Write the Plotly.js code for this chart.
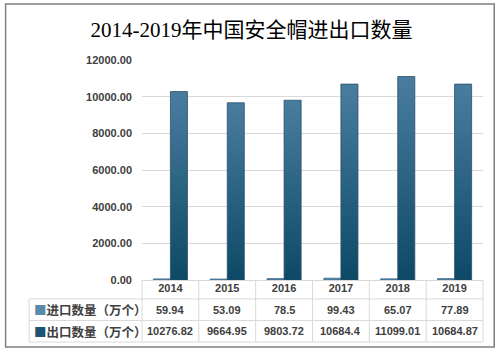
<!DOCTYPE html>
<html>
<head>
<meta charset="utf-8">
<script src="https://cdn.plot.ly/plotly-3.0.1.min.js"></script>
<style>
html,body{margin:0;padding:0;background:#fff;}
#chart{width:503px;height:353px;}
</style>
</head>
<body>
<div id="chart"></div>
<script>
const years = ['2014', '2015', '2016', '2017', '2018', '2019'];
const importQty = [59.94, 53.09, 78.5, 99.43, 65.07, 77.89];
const exportQty = [10276.82, 9664.95, 9803.72, 10684.4, 11099.01, 10684.87];
const importLabel = '进口数量（万个）';
const exportLabel = '出口数量（万个）';
const yTicks = [0, 2000, 4000, 6000, 8000, 10000, 12000];
const titleText = '2014-2019年中国安全帽进出口数量';

const importColor = '#5a8aaa';
const exportColor = '#2b6283';
const gridColor = '#d9d9d9';
const tableColor = '#d9d9d9';
const textColor = '#404040';
const numFont = {family: '"Liberation Sans", Arial, "Noto Sans CJK SC", sans-serif', size: 11, color: textColor, weight: 'bold'};

const traces = [
  {type: 'bar', name: importLabel, x: years, y: importQty,
   marker: {color: importColor, line: {color: '#3f6f8f', width: 0.8}}, hoverinfo: 'x+y'},
  {type: 'bar', name: exportLabel, x: years, y: exportQty,
   marker: {color: exportColor, line: {color: '#2a4f66', width: 0.8}}, hoverinfo: 'x+y'}
];

// table geometry (paper coords)
const rowTop = 0, row1 = -0.086, row2 = -0.184, row3 = -0.282, leftX = -0.331;
const shapes = [];
shapes.push({type: 'rect', xref: 'paper', yref: 'paper', x0: -0.4, x1: 1.033, y0: -0.3045, y1: 1.2545,
  line: {color: '#808080', width: 1.5}, fillcolor: 'rgba(0,0,0,0)', layer: 'below'});
[row1, row2, row3].forEach(function (yy) {
  shapes.push({type: 'line', xref: 'paper', yref: 'paper', x0: leftX, x1: 1, y0: yy, y1: yy,
    line: {color: tableColor, width: 1}});
});
// vertical lines at category boundaries (paper coords, one column per category)
for (let i = 0; i <= years.length; i++) {
  shapes.push({type: 'line', xref: 'paper', yref: 'paper', x0: i / years.length, x1: i / years.length, y0: rowTop, y1: row3,
    line: {color: tableColor, width: 1}});
}
shapes.push({type: 'line', xref: 'paper', yref: 'paper', x0: leftX, x1: leftX, y0: row1, y1: row3,
  line: {color: tableColor, width: 1}});

const annotations = [];
years.forEach(function (yr, i) {
  const cx = (i + 0.5) / years.length;
  annotations.push({xref: 'paper', yref: 'paper', x: cx, y: (row1 + row2) / 2, text: String(importQty[i]),
    showarrow: false, font: numFont, xanchor: 'center', yanchor: 'middle'});
  annotations.push({xref: 'paper', yref: 'paper', x: cx, y: (row2 + row3) / 2, text: String(exportQty[i]),
    showarrow: false, font: numFont, xanchor: 'center', yanchor: 'middle'});
});
const labFont = {family: '"Noto Sans CJK SC", sans-serif', size: 12.5, color: textColor, weight: 'bold'};
annotations.push({xref: 'paper', yref: 'paper', x: leftX + 0.008, y: (row1 + row2) / 2, xanchor: 'left', yanchor: 'middle',
  text: '<span style="color:' + importColor + '">■</span>' + importLabel, showarrow: false, font: labFont});
annotations.push({xref: 'paper', yref: 'paper', x: leftX + 0.008, y: (row2 + row3) / 2, xanchor: 'left', yanchor: 'middle',
  text: '<span style="color:#1d5473">■</span>' + exportLabel, showarrow: false, font: labFont});

const layout = {
  width: 503, height: 353,
  margin: {l: 142, r: 20, t: 60, b: 73, pad: 0},
  paper_bgcolor: '#ffffff', plot_bgcolor: '#ffffff',
  showlegend: false,
  bargap: 0.4, bargroupgap: 0,
  barmode: 'group',
  title: {text: titleText, x: 0.5, xanchor: 'center', y: 0.915, yanchor: 'middle',
    font: {family: '"Liberation Serif", "DejaVu Serif", "Noto Sans CJK SC", serif', size: 21, color: '#000000'}},
  xaxis: {type: 'category', categoryorder: 'array', categoryarray: years, range: [-0.5, years.length - 0.5],
    showgrid: false, zeroline: false, showline: false,
    ticks: '', tickfont: numFont, fixedrange: true},
  yaxis: {range: [0, 12000], tickvals: yTicks, tickformat: '.2f', showgrid: true, gridcolor: gridColor,
    gridwidth: 1, zeroline: true, zerolinecolor: tableColor, zerolinewidth: 1, showline: false,
    ticks: '', tickfont: numFont, ticklabelstandoff: 9, fixedrange: true},
  shapes: shapes,
  annotations: annotations
};

Plotly.newPlot('chart', traces, layout, {displayModeBar: false, staticPlot: true}).then(function () {
  const svg = document.querySelector('#chart .main-svg');
  const ns = 'http://www.w3.org/2000/svg';
  let defs = svg.querySelector('defs');
  if (!defs) { defs = document.createElementNS(ns, 'defs'); svg.insertBefore(defs, svg.firstChild); }
  function grad(id, top, bottom) {
    const g = document.createElementNS(ns, 'linearGradient');
    g.setAttribute('id', id); g.setAttribute('x1', '0'); g.setAttribute('y1', '0');
    g.setAttribute('x2', '0'); g.setAttribute('y2', '1');
    const s1 = document.createElementNS(ns, 'stop'); s1.setAttribute('offset', '0'); s1.setAttribute('stop-color', top);
    const s2 = document.createElementNS(ns, 'stop'); s2.setAttribute('offset', '1'); s2.setAttribute('stop-color', bottom);
    g.appendChild(s1); g.appendChild(s2); defs.appendChild(g);
  }
  grad('expGrad', '#497d9f', '#0d4966');
  grad('impGrad', '#6a98b6', '#3f7090');
  const barTraces = document.querySelectorAll('#chart .barlayer .trace');
  barTraces.forEach(function (t, idx) {
    t.querySelectorAll('path').forEach(function (p) {
      p.style.fill = idx === 1 ? 'url(#expGrad)' : 'url(#impGrad)';
    });
  });
});
</script>
</body>
</html>
